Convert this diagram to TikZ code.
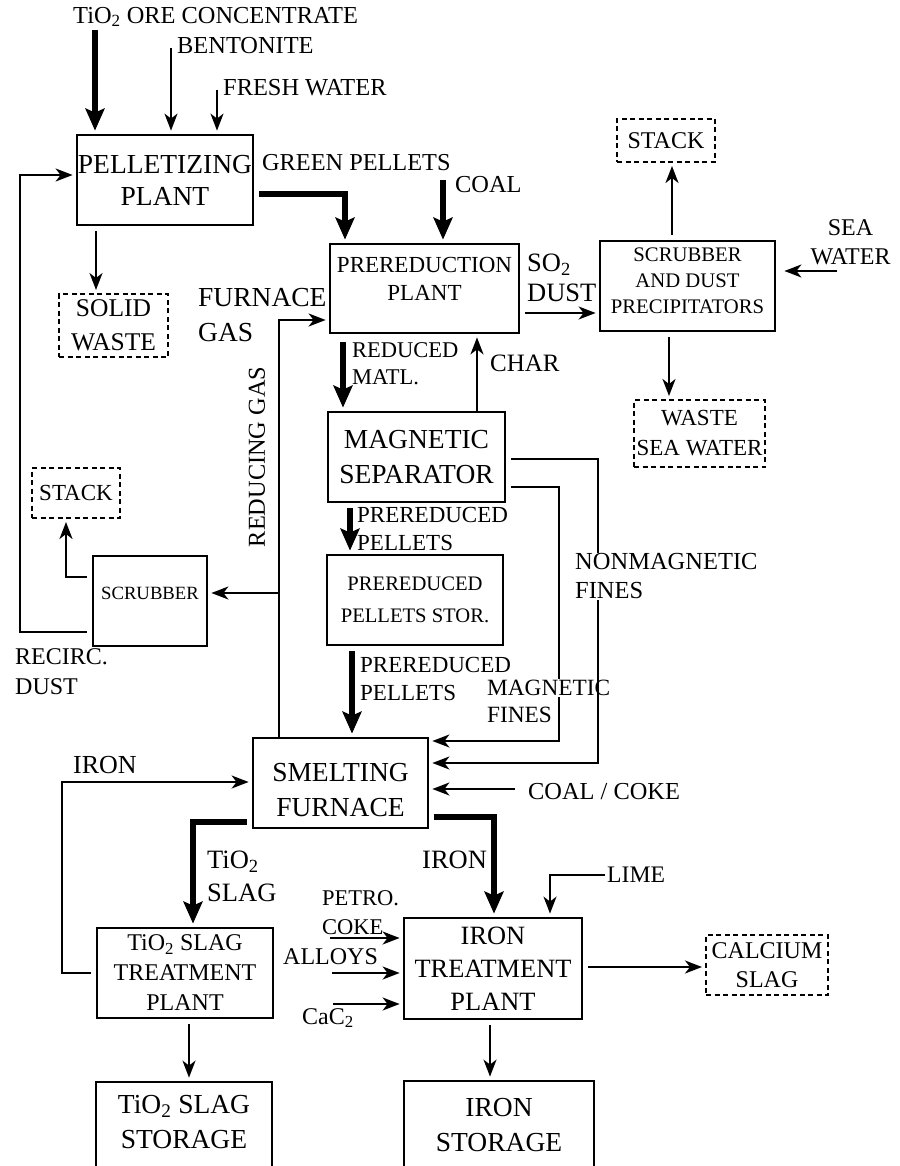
\documentclass[tikz,border=0pt]{standalone}
\usepackage{fontspec}
\setmainfont{Liberation Serif}
\usetikzlibrary{arrows.meta}
\newcommand{\myfs}[2]{\fontsize{#1pt}{#2pt}\selectfont}
\begin{document}
\begin{tikzpicture}[x=1pt,y=-1pt,
  box/.style={draw, line width=2.8pt, inner sep=0pt, align=center},
  dbox/.style={draw, line width=2pt, dash pattern=on 5pt off 3.5pt, inner sep=0pt, align=center},
  btxt/.style={inner sep=0pt, align=center},
  lab/.style={inner sep=0pt, anchor=west, align=left},
  arr/.style={line width=2.1pt, -{Stealth[length=17pt,width=13pt,inset=5pt]}, shorten >=3pt},
  tarr/.style={line width=6.5pt, -{Stealth[length=22pt,width=19pt,inset=4pt]}, shorten >=3pt},
  gap/.style={shorten <=5pt}
]
\fill[white] (0,0) rectangle (899,1166);
\useasboundingbox (0,0) rectangle (899,1166);
\clip (0,0) rectangle (899,1166);

% ---------- boxes ----------
\node[box, minimum width=176pt, minimum height=90pt, font=\myfs{27.5}{32}] (pel) at (165,180) {PELLETIZING\\PLANT};
\node[box, minimum width=189pt, minimum height=89pt,
  label={[btxt, font=\myfs{23}{28}, yshift=9.5pt]center:PREREDUCTION\\PLANT}] (pre) at (424.5,288.5) {};
\node[box, minimum width=175pt, minimum height=90pt,
  label={[btxt, font=\myfs{20.7}{26}, yshift=5pt]center:SCRUBBER\\AND DUST\\PRECIPITATORS}] (scr1) at (687.5,286) {};
\node[dbox, minimum width=98pt, minimum height=43pt, font=\myfs{24}{29}] (stack1) at (666,140.5) {STACK};
\node[dbox, minimum width=131pt, minimum height=67pt, font=\myfs{23}{30}] (wsw) at (699.5,433.5) {WASTE\\SEA WATER};
\node[dbox, minimum width=109pt, minimum height=63pt, font=\myfs{25.5}{34}] (sw) at (113.5,325.5) {SOLID\\WASTE};
\node[box, minimum width=177pt, minimum height=90pt, font=\myfs{27.5}{35}] (mag) at (416.5,457) {MAGNETIC\\SEPARATOR};
\node[box, minimum width=176pt, minimum height=90pt, font=\myfs{20.6}{32}] (pps) at (415,600) {PREREDUCED\\PELLETS STOR.};
\node[box, minimum width=114pt, minimum height=90pt,
  label={[btxt, font=\myfs{18.7}{24}, yshift=8pt]center:SCRUBBER}] (scr2) at (150,601) {};
\node[dbox, minimum width=88pt, minimum height=50pt, font=\myfs{23}{28}] (stack2) at (76,493) {STACK};
\node[box, minimum width=175pt, minimum height=90pt,
  label={[btxt, font=\myfs{27.5}{35}, yshift=-7pt]center:SMELTING\\FURNACE}] (smf) at (340.5,783) {};
\node[box, minimum width=176pt, minimum height=90pt, font=\myfs{24}{30}] (tst) at (185,973) {TiO\textsubscript{2} SLAG\\TREATMENT\\PLANT};
\node[box, minimum width=178pt, minimum height=101pt, font=\myfs{26.4}{33}] (itp) at (493,968.5) {IRON\\TREATMENT\\PLANT};
\node[dbox, minimum width=122pt, minimum height=60pt, font=\myfs{24}{29}] (cs) at (767,965) {CALCIUM\\SLAG};
\node[box, minimum width=176pt, minimum height=119pt,
  label={[btxt, font=\myfs{27.5}{35}, yshift=19.5pt]center:TiO\textsubscript{2} SLAG\\STORAGE}] (tss) at (184,1141.5) {};
\node[box, minimum width=190pt, minimum height=120pt,
  label={[btxt, font=\myfs{27.5}{35}, yshift=16pt]center:IRON\\STORAGE}] (iss) at (499,1141) {};

% ---------- free labels ----------
\node[lab, font=\myfs{24.4}{29}] (lTiO) at (73,17) {TiO\textsubscript{2} ORE CONCENTRATE};
\node[lab, font=\myfs{24.4}{29}] (lBen) at (177,46) {BENTONITE};
\node[lab, font=\myfs{24.4}{29}] (lFw) at (223,88) {FRESH WATER};
\node[lab, font=\myfs{24.3}{29}] (lGp) at (262,163) {GREEN PELLETS};
\node[lab, font=\myfs{24.4}{29}] (lCoal) at (455,185) {COAL};
\node[lab, font=\myfs{27.5}{35}] (lFg) at (198,315.5) {FURNACE\\GAS};
\node[lab, font=\myfs{26.5}{30}] (lSo) at (527,278) {SO\textsubscript{2}\\DUST};
\node[btxt, font=\myfs{24}{29}] (lSea) at (850.5,242.5) {SEA\\WATER};
\node[lab, font=\myfs{22.5}{27}] (lRm) at (352,363.5) {REDUCED\\MATL.};
\node[lab, font=\myfs{25}{29}] (lChar) at (490,363) {CHAR};
\node[inner sep=0pt, rotate=90, font=\myfs{24.3}{29}] (lRg) at (257,457) {REDUCING GAS};
\node[lab, font=\myfs{23}{28}] (lPp1) at (357,529) {PREREDUCED\\PELLETS};
\node[lab, font=\myfs{23}{28}] (lPp2) at (360,679) {PREREDUCED\\PELLETS};
\node[lab, font=\myfs{24}{30}] (lRd) at (15,672) {RECIRC.\\DUST};
\node[lab, font=\myfs{26}{30}] (lIron1) at (73,765) {IRON};
\node[lab, font=\myfs{24.4}{29}] (lCk) at (528,792) {COAL / COKE};
\node[lab, font=\myfs{26.5}{33}] (lTs) at (207,876.5) {TiO\textsubscript{2}\\SLAG};
\node[lab, font=\myfs{26.5}{30}] (lIron2) at (422,860) {IRON};
\node[lab, font=\myfs{23.7}{28}] (lLime) at (607,875) {LIME};
\node[lab, font=\myfs{22.5}{29}] (lPc) at (322,912.5) {PETRO.\\COKE};
\node[lab, font=\myfs{24}{29}] (lAl) at (283,957) {ALLOYS};
\node[lab, font=\myfs{24}{29}] (lCa) at (302,1018) {CaC\textsubscript{2}};

% ---------- free ends ----------
\coordinate (inTiO) at (95,30);
\coordinate (inBen) at (171,48);
\coordinate (inFw) at (217,90);
\coordinate (inCoal) at (443,180);
\coordinate (inSea) at (837,271);
\coordinate (rg) at (279,593);
\coordinate (rc) at (20,175);
\coordinate (ir) at (62,782);
\coordinate (mf) at (559,741);
\coordinate (nmf) at (598,763);
\coordinate (inCoke) at (515,789);
\coordinate (inLime) at (605,875);
\coordinate (inPc) at (330,938);
\coordinate (inAl) at (332,973);
\coordinate (inCa) at (333,1004);

% ---------- connectors ----------
\draw[tarr] (inTiO) -- (inTiO |- pel.north);
\draw[arr] (inBen) -- (inBen |- pel.north);
\draw[arr] (inFw) -- (inFw |- pel.north);
\draw[tarr, gap] (pel.east |- 0,194) -| (345,0 |- pre.north);
\draw[tarr] (inCoal) -- (inCoal |- pre.north);
\draw[arr, gap] (96,0 |- pel.south) -- (96,0 |- sw.north);
\draw[arr, gap] (pre.east |- 0,313) -- (scr1.west |- 0,313);
\draw[arr, gap] (672,0 |- scr1.north) -- (672,0 |- stack1.south);
\draw[arr, shorten >=8pt] (inSea) -- (inSea -| scr1.east);
\draw[arr, gap] (669,0 |- scr1.south) -- (669,0 |- wsw.north);
\draw[tarr, shorten <=8pt] (343,0 |- pre.south) -- (343,0 |- mag.north);
\draw[arr] (477,0 |- mag.north) -- (477,0 |- pre.south);
\draw[arr] (279,0 |- smf.north) |- (pre.west |- 0,320);
\draw[arr] (rg) -- (rg -| scr2.east);
\draw[arr, gap] (scr2.west |- 0,577) -| (66,0 |- stack2.south);
\draw[arr, gap] (scr2.west |- 0,632) -| (rc) -- (rc -| pel.west);
\draw[tarr, gap] (350,0 |- mag.south) -- (350,0 |- pps.north);
\draw[tarr, gap] (352,0 |- pps.south) -- (352,0 |- smf.north);
\draw[arr, gap] (mag.east |- 0,487) -| (mf) -- (mf -| smf.east);
\node[lab, fill=white, inner sep=1pt, font=\myfs{23.3}{27}] (lMf1) at (486,688) {MAGNETIC};
\node[lab, font=\myfs{23.3}{27}] (lMf2) at (487,715) {FINES};
\draw[arr, gap] (mag.east |- 0,459) -| (nmf) -- (nmf -| smf.east);
\node[lab, fill=white, inner sep=1pt, font=\myfs{24.5}{29}] (lNm) at (574,576.5) {NONMAGNETIC\\FINES};
\draw[arr] (inCoke) -- (inCoke -| smf.east);
\draw[tarr, gap] (smf.east |- 0,817) -| (494,0 |- itp.north);
\draw[arr] (inLime) -| (550,0 |- itp.north);
\draw[tarr, gap] (smf.west |- 0,822) -| (193,0 |- tst.north);
\draw[arr, gap] (tst.west |- 0,973) -| (ir) -- (ir -| smf.west);
\draw[arr] (inPc) -- (inPc -| itp.west);
\draw[arr] (inAl) -- (inAl -| itp.west);
\draw[arr] (inCa) -- (inCa -| itp.west);
\draw[arr, gap] (itp.east |- 0,967) -- (cs.west |- 0,967);
\draw[arr, gap] (490,0 |- itp.south) -- (490,0 |- iss.north);
\draw[arr, gap] (189,0 |- tst.south) -- (189,0 |- tss.north);
\end{tikzpicture}
\end{document}
